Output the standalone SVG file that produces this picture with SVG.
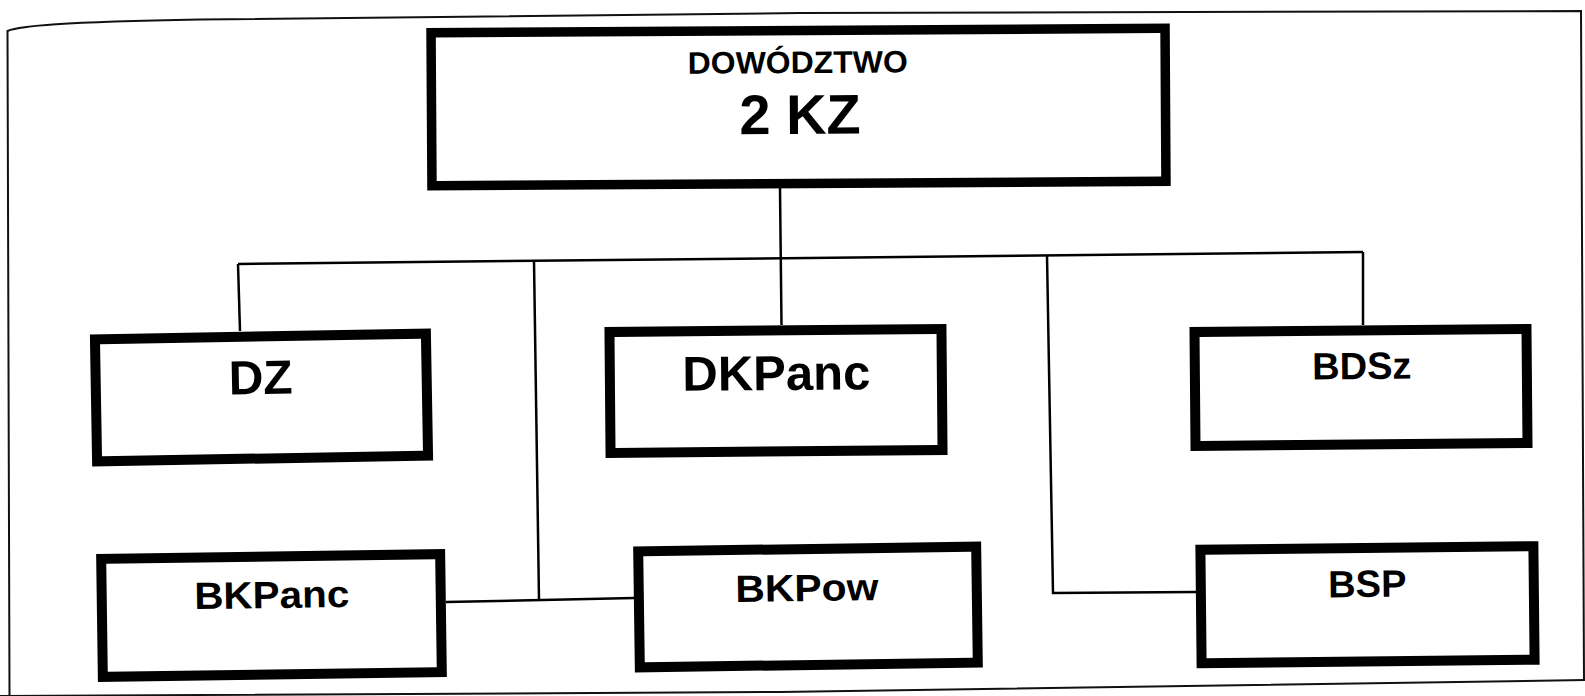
<svg xmlns="http://www.w3.org/2000/svg" width="1585" height="696" viewBox="0 0 1585 696">
<style>
.box{fill:#fff;stroke:#000;stroke-width:10}
.lbl{font-family:"Liberation Sans",Arial,sans-serif;font-weight:bold;fill:#000;text-anchor:middle}
.con{fill:none;stroke:#000;stroke-width:2.5;stroke-linejoin:miter}
.frame{fill:none;stroke:#111;stroke-width:2}
</style>
<rect x="0" y="0" width="1585" height="696" fill="#fff"/>
<g id="frame">
<path class="frame" d="M9.5,696 L7.5,31 C20,26 60,22 200,19.5 L800,13 L1581,11 L1584,680"/>
<path class="frame" d="M0,696 L780,692 L1585,680"/>
</g>
<g id="connectors">
<path class="con" d="M780,188 L781.5,325"/>
<path class="con" d="M238,264 L1363,252"/>
<path class="con" d="M238,264 L240,331"/>
<path class="con" d="M534,261 L539,600"/>
<path class="con" d="M446,602 L634,598"/>
<path class="con" d="M1047,255.4 L1053,593 L1196,592"/>
<path class="con" d="M1363,252 L1363,325"/>
</g>
<g id="node-dowodztwo" transform="rotate(-0.35 798.5 107)">
<rect class="box" style="stroke-width:9.5" x="431.5" y="30.5" width="734" height="153"/>
<text class="lbl" x="798" y="73" font-size="31" textLength="220" lengthAdjust="spacingAndGlyphs">DOWÓDZTWO</text>
<text class="lbl" x="800" y="134" font-size="56">2 KZ</text>
</g>
<g id="node-dz" transform="rotate(-1 261.5 397.5)">
<rect class="box" x="96" y="336.5" width="331" height="122"/>
<text class="lbl" x="261" y="394" font-size="48">DZ</text>
</g>
<g id="node-dkpanc" transform="rotate(-0.5 776 391)">
<rect class="box" x="610" y="330.5" width="332" height="121"/>
<text class="lbl" x="776.5" y="390" font-size="49">DKPanc</text>
</g>
<g id="node-bdsz" transform="rotate(-0.5 1361 387.5)">
<rect class="box" x="1195" y="330.5" width="332" height="114"/>
<text class="lbl" x="1362" y="379" font-size="38">BDSz</text>
</g>
<g id="node-bkpanc" transform="rotate(-0.8 271.5 615.5)">
<rect class="box" x="102" y="556.5" width="339" height="118"/>
<text class="lbl" x="272" y="608" font-size="38" textLength="155" lengthAdjust="spacingAndGlyphs">BKPanc</text>
</g>
<g id="node-bkpow" transform="rotate(-0.8 808 607)">
<rect class="box" x="639" y="549" width="338" height="116"/>
<text class="lbl" x="807" y="601" font-size="38" textLength="143" lengthAdjust="spacingAndGlyphs">BKPow</text>
</g>
<g id="node-bsp" transform="rotate(-0.6 1367.5 604.75)">
<rect class="box" x="1201" y="548" width="333" height="113.5"/>
<text class="lbl" x="1367.5" y="597" font-size="38">BSP</text>
</g>
</svg>
